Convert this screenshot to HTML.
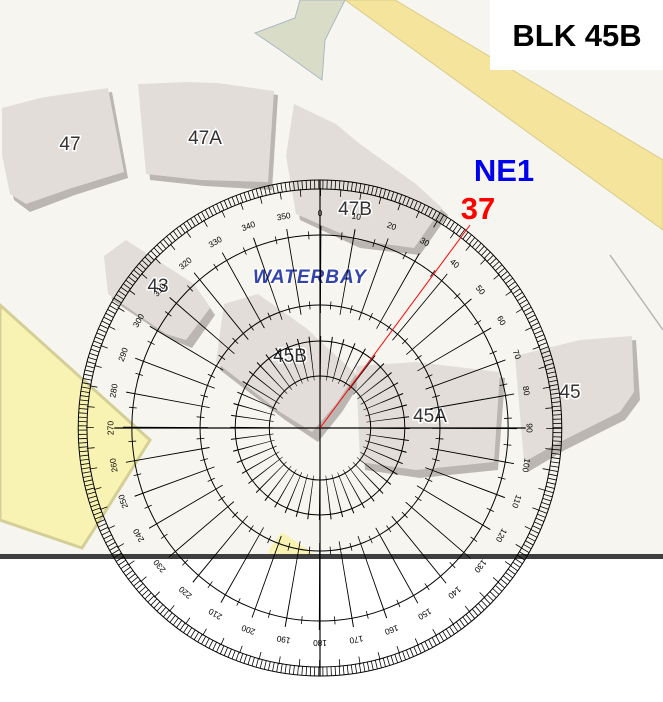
<!DOCTYPE html>
<html><head><meta charset="utf-8"><style>
html,body{margin:0;padding:0;background:#fff}
svg{display:block}
text{font-family:"Liberation Sans",Arial,sans-serif}
</style></head><body>
<svg width="663" height="702" viewBox="0 0 663 702" xmlns="http://www.w3.org/2000/svg">
<rect x="0" y="0" width="663" height="557" fill="#f7f5f0"/>
<rect x="0" y="557" width="663" height="145" fill="#ffffff"/>
<polygon points="345,0 395,0 663,160 663,230" fill="#f5e49c" stroke="#d9cc8a" stroke-width="1"/>
<polygon points="300,0 345,0 325,40 322,80 280,50 255,33 295,18" fill="#d9dcc6" stroke="#a9b8c4" stroke-width="1"/>
<polygon points="0,305 150,440 100,520 82,548 0,520" fill="#f8f3b2" stroke="#d4cf96" stroke-width="3"/>
<polygon points="270,548 282,532 318,557 268,557" fill="#f8f3b2"/>
<polyline points="610,255 663,330" fill="none" stroke="#b5b5b5" stroke-width="1.5"/>
<g fill="#bbb6b1">
<polygon points="8,112 45,102 55,100 112,92 128,178 75,195 30,212 14,200 5,160"/>
<polygon points="142,88 192,86 222,87 278,95 272,190 205,186 150,180"/>
<polygon points="298,108 340,130 365,150 420,190 448,215 420,255 360,248 300,220 290,160"/>
<polygon points="108,262 130,245 198,290 215,315 192,348 172,340 112,300"/>
<polygon points="228,310 262,300 310,335 362,380 342,412 318,442 285,420 220,370"/>
<polygon points="360,372 420,368 505,378 498,470 420,478 365,470"/>
<polygon points="520,362 585,345 636,340 640,400 625,420 565,450 528,472"/>
</g>
<g fill="#e2ddd8">
<polygon points="2,108 40,98 52,96 108,88 124,172 72,188 26,204 10,194 2,155"/>
<polygon points="138,84 188,82 218,83 274,91 268,182 200,180 146,174"/>
<polygon points="294,104 336,124 360,144 416,184 442,208 414,248 356,240 296,214 286,156"/>
<polygon points="104,256 126,240 194,284 210,308 186,340 166,334 108,294"/>
<polygon points="224,304 258,294 306,328 356,374 336,404 312,432 280,412 216,362"/>
<polygon points="356,366 416,362 500,372 494,462 416,470 360,462"/>
<polygon points="515,356 580,340 632,336 634,392 620,412 560,442 524,462"/>
</g>
<g font-size="19" fill="#333" text-anchor="middle" stroke="#fff" stroke-width="3" paint-order="stroke">
<text x="70" y="150">47</text>
<text x="205" y="144">47A</text>
<text x="355" y="215">47B</text>
<text x="158" y="292">43</text>
<text x="290" y="362">45B</text>
<text x="430" y="422">45A</text>
<text x="570" y="398">45</text>
</g>
<text x="310" y="283" font-size="19" font-weight="bold" font-style="italic" fill="#3344aa" text-anchor="middle" letter-spacing="1" stroke="#fff" stroke-width="3" paint-order="stroke">WATERBAY</text>
<rect x="0" y="554" width="663" height="5" fill="#3e3e3e"/>
<g transform="translate(320,428) scale(0.975,1)" fill="none" stroke="#000" stroke-width="1">
<circle r="248"/>
<circle r="239"/>
<circle r="193"/>
<circle r="123"/>
<circle r="87"/>
<circle r="52"/>
<!-- 1 degree ticks -->
<circle r="243.5" stroke-width="9" stroke-dasharray="0.8 3.459"/>
<!-- 5 degree ticks -->
<circle r="236" stroke-width="8" stroke-dasharray="0.8 19.795"/>
<!-- 10 degree radial lines -->
<circle r="158.5" stroke-width="87" stroke-dasharray="0.9 26.762"/>
<!-- inner radial lines -->
<circle r="70" stroke-width="44" stroke-dasharray="0.8 8.363"/>
<!-- short ticks on rings -->
<circle r="123" stroke-width="8" stroke-dasharray="0.8 20.667" stroke-dashoffset="-10.33"/>
<circle r="193" stroke-width="8" stroke-dasharray="0.8 33.07" stroke-dashoffset="-16.5"/>
<line x1="0" y1="-248" x2="0" y2="248" stroke-width="1.2"/>
<line x1="-211" y1="0" x2="211" y2="0" stroke-width="1.2"/>
<g fill="#000" stroke="none" font-size="8.5" text-anchor="middle">
<text transform="rotate(0)" y="-212">0</text><text transform="rotate(10)" y="-212">10</text><text transform="rotate(20)" y="-212">20</text><text transform="rotate(30)" y="-212">30</text><text transform="rotate(40)" y="-212">40</text><text transform="rotate(50)" y="-212">50</text><text transform="rotate(60)" y="-212">60</text><text transform="rotate(70)" y="-212">70</text><text transform="rotate(80)" y="-212">80</text><text transform="rotate(90)" y="-212">90</text><text transform="rotate(100)" y="-212">100</text><text transform="rotate(110)" y="-212">110</text><text transform="rotate(120)" y="-212">120</text><text transform="rotate(130)" y="-212">130</text><text transform="rotate(140)" y="-212">140</text><text transform="rotate(150)" y="-212">150</text><text transform="rotate(160)" y="-212">160</text><text transform="rotate(170)" y="-212">170</text><text transform="rotate(180)" y="-212">180</text><text transform="rotate(190)" y="-212">190</text><text transform="rotate(200)" y="-212">200</text><text transform="rotate(210)" y="-212">210</text><text transform="rotate(220)" y="-212">220</text><text transform="rotate(230)" y="-212">230</text><text transform="rotate(240)" y="-212">240</text><text transform="rotate(250)" y="-212">250</text><text transform="rotate(260)" y="-212">260</text><text transform="rotate(270)" y="-212">270</text><text transform="rotate(280)" y="-212">280</text><text transform="rotate(290)" y="-212">290</text><text transform="rotate(300)" y="-212">300</text><text transform="rotate(310)" y="-212">310</text><text transform="rotate(320)" y="-212">320</text><text transform="rotate(330)" y="-212">330</text><text transform="rotate(340)" y="-212">340</text><text transform="rotate(350)" y="-212">350</text>
</g>
</g>
<line x1="320" y1="428" x2="470" y2="225" stroke="#ff0000" stroke-width="1"/>
<rect x="490" y="0" width="173" height="70" fill="#fff"/>
<text x="577" y="46" font-size="31" font-weight="bold" fill="#000" text-anchor="middle">BLK 45B</text>
<text x="504" y="181" font-size="31" font-weight="bold" fill="#0000ee" text-anchor="middle">NE1</text>
<text x="478" y="219" font-size="31" font-weight="bold" fill="#ff0000" text-anchor="middle">37</text>
</svg>
</body></html>
